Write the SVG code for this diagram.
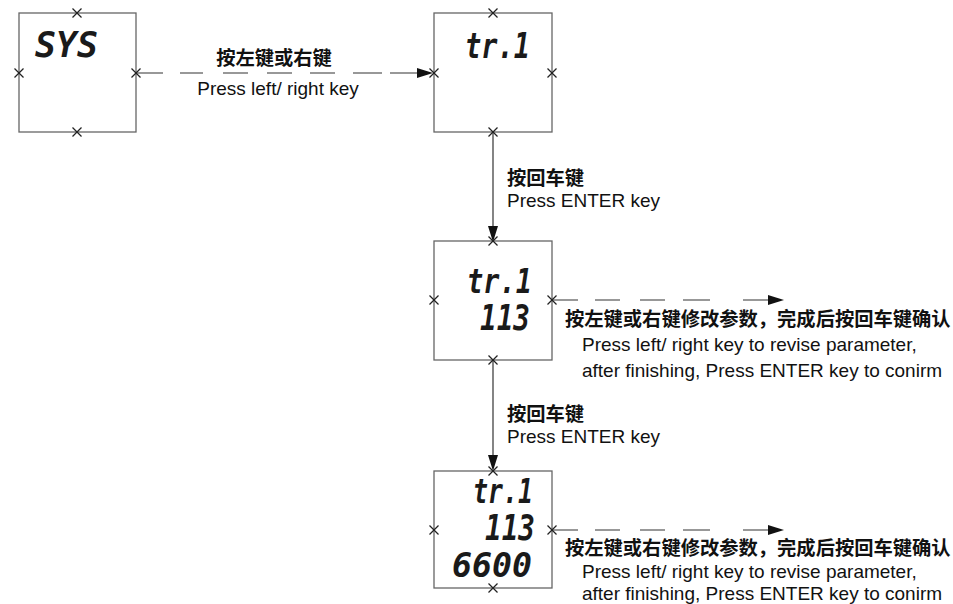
<svg xmlns="http://www.w3.org/2000/svg" xmlns:xlink="http://www.w3.org/1999/xlink" width="953" height="604" viewBox="0 0 953 604">
<style>
.box{fill:#fff;stroke:#666;stroke-width:1.3}
.xm{stroke:#222;stroke-width:1.2}
.conn{fill:none;stroke:#333;stroke-width:1.2}
.seg{font-family:"DejaVu Sans Mono",monospace;font-weight:bold;font-style:oblique;fill:#1a1a1a}
.cn{font-family:"Noto Sans CJK SC",sans-serif;font-weight:bold;font-size:19.3px;fill:#111}
.en{font-family:"Liberation Sans",Arial,sans-serif;font-size:19px;fill:#111}
</style>
<defs>
<g id="xmark" class="xm"><line x1="-4.5" y1="-4.5" x2="4.5" y2="4.5"/><line x1="-4.5" y1="4.5" x2="4.5" y2="-4.5"/></g>
<marker id="ah" markerUnits="userSpaceOnUse" viewBox="0 0 16 10" refX="0" refY="5" markerWidth="16" markerHeight="10" orient="auto"><path d="M0,0 L16,5 L0,10 Z" fill="#111"/></marker>
</defs>

<g id="connectors">
<path class="conn" d="M136,73 H417" stroke-dasharray="27 17 23 20 25 19 25 18 25 18 29 8 27" marker-end="url(#ah)"/>
<path class="conn" d="M493,132 V226" marker-end="url(#ah)"/>
<path class="conn" d="M552,300 H768" stroke-dasharray="26 17 25 20 25 18 27 33 30" marker-end="url(#ah)"/>
<path class="conn" d="M493,360 V455" marker-end="url(#ah)"/>
<path class="conn" d="M552,530 H768" stroke-dasharray="26 17 25 20 25 18 27 33 30" marker-end="url(#ah)"/>
</g>

<g id="node-sys">
<rect class="box" x="19" y="13" width="117" height="119"/>
<text class="seg" x="35" y="57" font-size="36" textLength="63" lengthAdjust="spacingAndGlyphs">SYS</text>
<use xlink:href="#xmark" x="77" y="13"/><use xlink:href="#xmark" x="77" y="132"/>
<use xlink:href="#xmark" x="19" y="73"/><use xlink:href="#xmark" x="136" y="73"/>
</g>

<g id="node-tr1">
<rect class="box" x="434" y="13" width="118" height="119"/>
<text class="seg" x="465" y="58" font-size="36" textLength="65" lengthAdjust="spacingAndGlyphs">tr.1</text>
<use xlink:href="#xmark" x="493" y="13"/><use xlink:href="#xmark" x="493" y="132"/>
<use xlink:href="#xmark" x="434" y="73"/><use xlink:href="#xmark" x="552" y="73"/>
</g>

<g id="node-tr1-113">
<rect class="box" x="434" y="241" width="118" height="119"/>
<text class="seg" x="467" y="293" font-size="33" textLength="65" lengthAdjust="spacingAndGlyphs">tr.1</text>
<text class="seg" x="480" y="330" font-size="36" textLength="50" lengthAdjust="spacingAndGlyphs">113</text>
<use xlink:href="#xmark" x="493" y="241"/><use xlink:href="#xmark" x="493" y="360"/>
<use xlink:href="#xmark" x="434" y="300"/><use xlink:href="#xmark" x="552" y="300"/>
</g>

<g id="node-tr1-113-6600">
<rect class="box" x="434" y="471" width="118" height="117"/>
<text class="seg" x="473" y="503" font-size="33" textLength="60" lengthAdjust="spacingAndGlyphs">tr.1</text>
<text class="seg" x="485" y="540" font-size="36" textLength="50" lengthAdjust="spacingAndGlyphs">113</text>
<text class="seg" x="452" y="577" font-size="34" textLength="80" lengthAdjust="spacingAndGlyphs">6600</text>
<use xlink:href="#xmark" x="493" y="471"/><use xlink:href="#xmark" x="493" y="588"/>
<use xlink:href="#xmark" x="434" y="530"/><use xlink:href="#xmark" x="552" y="530"/>
</g>

<g id="labels">
<text class="cn" x="274" y="65" text-anchor="middle">按左键或右键</text>
<text class="en" x="278" y="95" text-anchor="middle">Press left/ right key</text>
<text class="cn" x="507" y="185">按回车键</text>
<text class="en" x="507" y="207">Press ENTER key</text>
<text class="cn" x="565" y="326">按左键或右键修改参数，完成后按回车键确认</text>
<text class="en" x="582" y="351">Press left/ right key to revise parameter,</text>
<text class="en" x="582" y="377">after finishing, Press ENTER key to conirm</text>
<text class="cn" x="507" y="421">按回车键</text>
<text class="en" x="507" y="443">Press ENTER key</text>
<text class="cn" x="565" y="555">按左键或右键修改参数，完成后按回车键确认</text>
<text class="en" x="582" y="578">Press left/ right key to revise parameter,</text>
<text class="en" x="582" y="600">after finishing, Press ENTER key to conirm</text>
</g>
</svg>
